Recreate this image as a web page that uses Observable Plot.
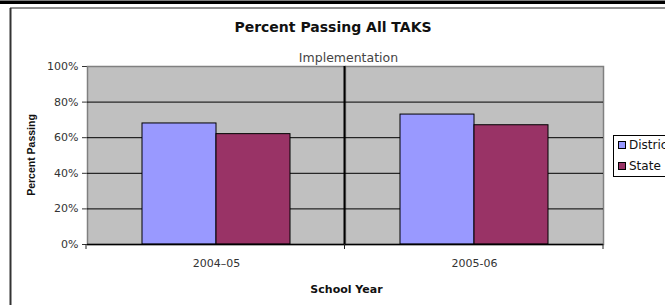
<!DOCTYPE html>
<html>
<head>
<meta charset="utf-8">
<script src="https://cdn.jsdelivr.net/npm/d3@7"></script>
<script src="https://cdn.jsdelivr.net/npm/@observablehq/plot@0.6"></script>
<style>
  html, body { margin: 0; padding: 0; background: #fff; overflow: hidden; }
  svg { display: block; }
</style>
</head>
<body>
<div id="chart"></div>
<script>
// ---- data ----
const years = ["2004–05", "2005-06"];
const series = ["District", "State"];
const districtValues = [0.68, 0.73];
const stateValues = [0.62, 0.67];
const yTicks = [0, 0.2, 0.4, 0.6, 0.8, 1];
const seriesColors = ["#9999ff", "#993366"];
const titleText = "Percent Passing All TAKS";
const annotationText = "Implementation";
const yLabelText = "Percent Passing";
const xLabelText = "School Year";

const values = {District: districtValues, State: stateValues};
// facet key is the year's index; its label is read back from `years`
const data = years.flatMap((year, i) => series.map(s => ({yearIndex: i, series: s, value: values[s][i]})));
const yearIndexes = years.map((_, i) => i);

const W = 665, H = 305;
const plot = Plot.plot({
  width: W,
  height: H,
  marginLeft: 86,
  marginRight: 62,
  marginTop: 66,
  marginBottom: 61,
  style: {fontFamily: "DejaVu Sans", fontSize: "11px", color: "#333", background: "white", overflow: "hidden"},
  facet: {data, x: "yearIndex"},
  fx: {domain: yearIndexes, padding: 0, axis: "bottom", label: null, tickSize: 0, tickPadding: 15, tickFormat: i => years[i]},
  x: {domain: series, paddingInner: 0, paddingOuter: 0.743, axis: null},
  y: {domain: [0, 1], ticks: yTicks, tickFormat: d3.format(".0%"), tickSize: 5, tickPadding: 4, label: null},
  color: {domain: series, range: seriesColors},
  marks: [
    Plot.frame({fill: "#c0c0c0", stroke: "#808080", strokeWidth: 1.5}),
    Plot.ruleY(yTicks.slice(1, -1), {stroke: "black", strokeWidth: 1, facet: false}),
    Plot.barY(data, {x: "series", y: "value", fill: "series", stroke: "black", strokeWidth: 1}),
    Plot.ruleY([0], {stroke: "black", strokeWidth: 1.5, facet: false})
  ]
});

document.getElementById("chart").appendChild(plot);

// ---- decorations using the plot's own scales ----
const svg = d3.select(plot);
const fxd = plot.scale("fx");
const yd = plot.scale("y");
const cd = plot.scale("color");
const fx = d3.scaleBand().domain(fxd.domain).range(fxd.range)
  .paddingInner(fxd.paddingInner ?? 0).paddingOuter(fxd.paddingOuter ?? 0);
const y = d3.scaleLinear().domain(yd.domain).range(yd.range);
const y0 = y(0), y1 = y(1);
const left = fx(yearIndexes[0]);
const mid = fx(yearIndexes[1]);
const right = fx(yearIndexes[1]) + fx.bandwidth();

const g = svg.append("g").attr("text-anchor", "start");
// implementation divider
g.append("line").attr("x1", mid).attr("x2", mid).attr("y1", y1).attr("y2", y0)
  .attr("stroke", "black").attr("stroke-width", 2);
// category boundary ticks
g.selectAll("line.bt").data([left, mid, right]).join("line")
  .attr("x1", d => d).attr("x2", d => d).attr("y1", y0).attr("y2", y0 + 5)
  .attr("stroke", "#222").attr("stroke-width", 1);

// outer border
g.append("rect").attr("x", 0).attr("y", 0.5).attr("width", W).attr("height", 3.5).attr("fill", "black");
g.append("line").attr("x1", 10).attr("x2", W).attr("y1", 8).attr("y2", 8).attr("stroke", "#222").attr("stroke-width", 1.2);
g.append("line").attr("x1", 10.5).attr("x2", 10.5).attr("y1", 8).attr("y2", H).attr("stroke", "#333").attr("stroke-width", 2);

// title & annotation
g.append("text").attr("x", 333).attr("y", 27).attr("dy", "0.35em").attr("text-anchor", "middle")
  .attr("font-family", "DejaVu Sans").attr("font-weight", "bold").attr("font-size", 14).attr("fill", "#111")
  .text(titleText);
g.append("text").attr("x", mid + 4).attr("y", 58).attr("dy", "0.35em").attr("text-anchor", "middle")
  .attr("font-family", "DejaVu Sans").attr("font-size", 12.5).attr("fill", "#444")
  .text(annotationText);

// axis labels
g.append("text").attr("transform", `translate(31,${(y0 + y1) / 2}) rotate(-90)`).attr("dy", "0.35em")
  .attr("text-anchor", "middle").attr("font-family", "Liberation Sans").attr("font-size", 10.5)
  .attr("font-weight", "bold").attr("fill", "#111").text(yLabelText);
g.append("text").attr("x", (left + right) / 2 + 2).attr("y", 289).attr("dy", "0.35em").attr("text-anchor", "middle")
  .attr("font-family", "DejaVu Sans").attr("font-weight", "bold").attr("font-size", 11).attr("fill", "#111")
  .text(xLabelText);

// legend (clipped at the right edge, as in the reference)
const lg = g.append("g");
lg.append("rect").attr("x", 613.5).attr("y", 135.5).attr("width", 80).attr("height", 41)
  .attr("fill", "white").attr("stroke", "black").attr("stroke-width", 1);
const items = lg.selectAll("g.item").data(cd.domain).join("g")
  .attr("transform", (d, i) => `translate(0,${i * 21})`);
items.append("rect").attr("x", 618.5).attr("y", 141.5).attr("width", 7).attr("height", 7)
  .attr("fill", (d, i) => cd.range[i]).attr("stroke", "black").attr("stroke-width", 1);
items.append("text").attr("x", 629).attr("y", 145).attr("dy", "0.35em").attr("text-anchor", "start")
  .attr("font-family", "DejaVu Sans").attr("font-size", 12).attr("fill", "#111").text(d => d);
</script>
</body>
</html>
